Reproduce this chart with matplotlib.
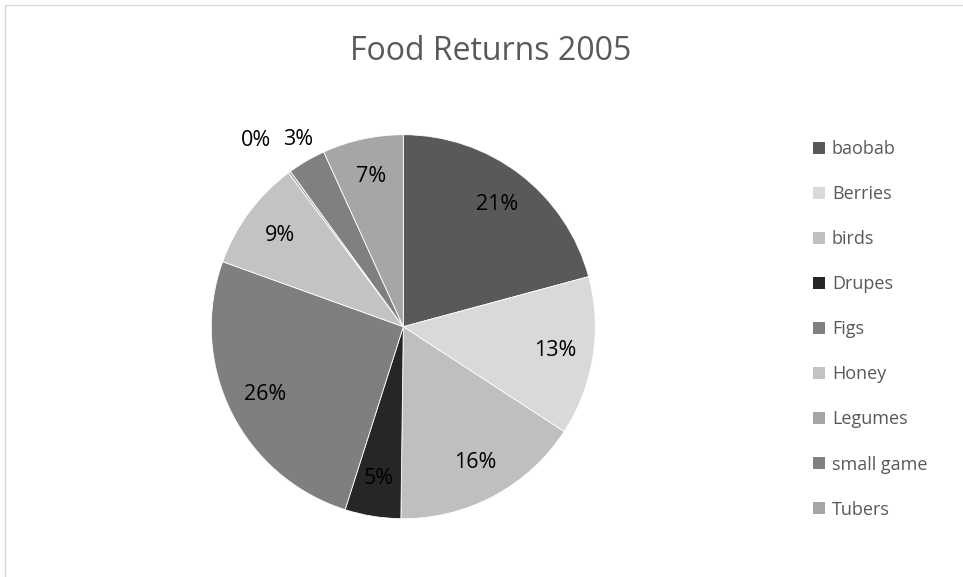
import numpy as np
import matplotlib
matplotlib.use("Agg")
import matplotlib.pyplot as plt
from matplotlib.patches import Rectangle, Patch

# ---------- data ----------
foods  = ["baobab", "Berries", "birds", "Drupes", "Figs",
          "Honey", "Legumes", "small game", "Tubers"]
shares = [20.8, 13.4, 16.0, 4.7, 25.6, 9.3, 0.2, 3.2, 6.8]
greys  = ["#595959", "#d9d9d9", "#bfbfbf", "#262626", "#7f7f7f",
          "#c3c3c3", "#a5a5a5", "#808080", "#a6a6a6"]
title  = "Food Returns 2005"

plt.rcParams["font.family"] = ["Open Sans", "DejaVu Sans"]

W, H = 963, 577
fig = plt.figure(figsize=(W / 100, H / 100), dpi=100)

# light chart-area border (runs off the right/bottom edge like the original)
fig.patches.append(Rectangle((5 / W, -0.1), 1.2, 1 - 5 / H + 0.1,
                             transform=fig.transFigure, fill=False,
                             edgecolor="#d9d9d9", linewidth=1.0))

# pie centre (403, 327) radius 192 px
cx, cy, r = 403.3, 326.7, 192
ax = fig.add_axes([(cx - r) / W, (H - cy - r) / H, 2 * r / W, 2 * r / H])

wedges, texts, autotexts = ax.pie(
    shares, colors=greys, startangle=90, counterclock=False,
    autopct="%1.0f%%", pctdistance=0.8,
    textprops=dict(fontsize=15.5, color="black"),
    wedgeprops=dict(linewidth=0.6, edgecolor="white"))
ax.set_xlim(-1, 1)
ax.set_ylim(-1, 1)
ax.set_aspect("equal")
ax.axis("off")

# tiny slices get their labels pushed outside the pie
for w, t in zip(wedges, autotexts):
    frac = (w.theta2 - w.theta1) / 360
    if frac < 0.01:
        ang = np.deg2rad((w.theta1 + w.theta2) / 2 + 2)
        t.set_position((1.24 * np.cos(ang), 1.24 * np.sin(ang)))
    elif frac < 0.04:
        ang = np.deg2rad((w.theta1 + w.theta2) / 2 - 1)
        t.set_position((1.12 * np.cos(ang), 1.12 * np.sin(ang)))

fig.text(491 / W, 1 - 51 / H, title, ha="center", va="center",
         fontsize=23, color="#595959")

handles = [Patch(facecolor=c, edgecolor="none") for c in greys]
fig.legend(handles, foods, loc="upper left",
           bbox_to_anchor=(813 / W, 1 - 140 / H), frameon=False,
           fontsize=13, labelcolor="#595959", handlelength=0.65,
           handleheight=0.65, handletextpad=0.4, labelspacing=1.5,
           borderaxespad=0, borderpad=0)

plt.savefig("out.png", dpi=100)
